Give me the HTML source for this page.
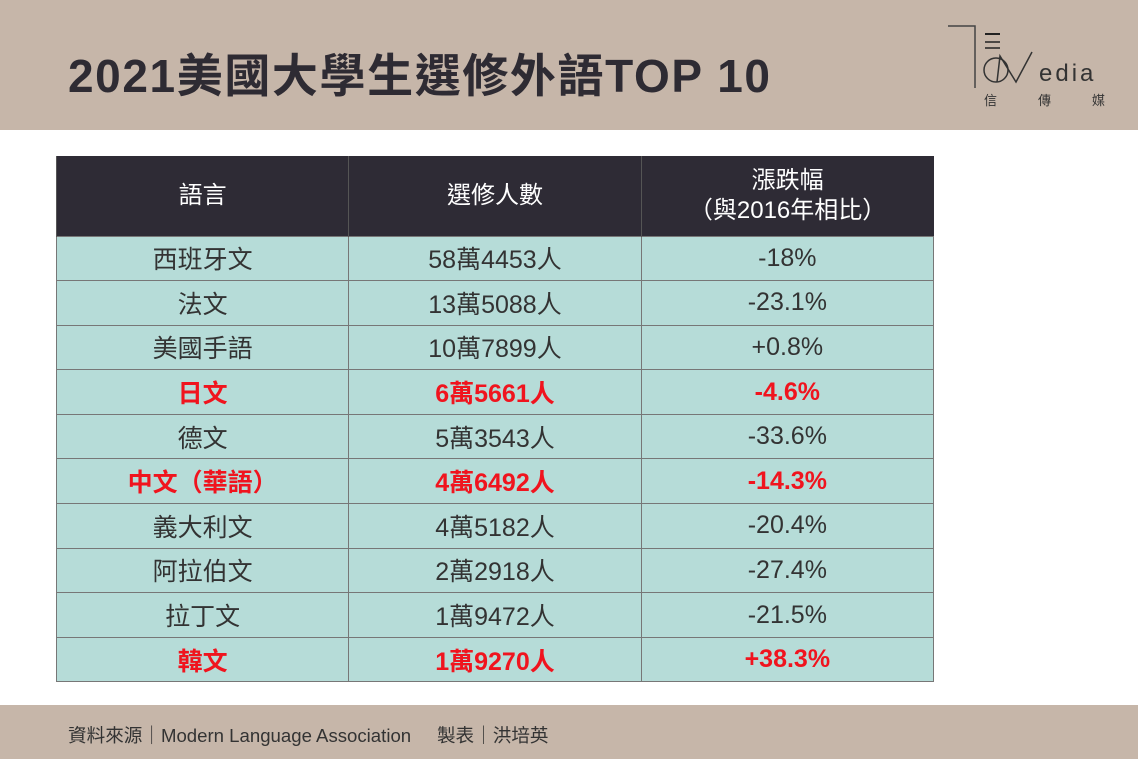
<!DOCTYPE html>
<html><head><meta charset="utf-8"><style>
*{margin:0;padding:0;box-sizing:border-box}
body{width:1138px;height:759px;background:#fff;position:relative;overflow:hidden;font-family:"Liberation Sans","Noto Sans CJK TC",sans-serif}
.top{position:absolute;left:0;top:0;width:1138px;height:130px;background:#c6b6a9}
.title{position:absolute;left:68px;top:40px;font-size:46px;font-weight:bold;color:#2e2b33;letter-spacing:1.6px;white-space:nowrap}
.foot{position:absolute;left:0;top:705px;width:1138px;height:54px;background:#c6b6a9;font-size:18.6px;color:#333;padding:16px 0 0 68px;white-space:nowrap}
table{position:absolute;left:56px;top:156px;width:878px;border-collapse:collapse;font-family:"Liberation Sans","Noto Sans CJK TC",sans-serif}
th{background:#2e2b35;color:#fff;font-weight:normal;font-size:24px;height:80px;border-left:1px solid #555;line-height:1.25}
td{background:#b6dcd8;border:1px solid #777;height:44.6px;text-align:center;font-size:25px;color:#333;width:292px}
tr.r td{color:#f0141e;font-weight:bold}
</style></head><body>
<div class="top"></div>
<div class="title">2021美國大學生選修外語TOP 10</div>
<svg style="position:absolute;left:940px;top:18px" width="190" height="100">
<polyline points="8,8 35,8 35,70" fill="none" stroke="#444" stroke-width="1.5"/>
<line x1="45" y1="16" x2="60" y2="16" stroke="#222" stroke-width="2"/>
<line x1="45" y1="24" x2="60" y2="24" stroke="#222" stroke-width="1.5"/>
<line x1="45" y1="30" x2="60" y2="30" stroke="#222" stroke-width="1.5"/>
<circle cx="56" cy="52" r="12" fill="none" stroke="#333" stroke-width="1.5"/>
<polyline points="57,64 60,38 76,64 92,34" fill="none" stroke="#333" stroke-width="1.5"/>
<text x="99" y="63" font-size="24" fill="#333" font-family="Liberation Sans" letter-spacing="3">edia</text>
<text x="44" y="87" font-size="13" fill="#333">信</text>
<text x="98" y="87" font-size="13" fill="#333">傳</text>
<text x="152" y="87" font-size="13" fill="#333">媒</text>
</svg>
<table>
<tr><th>語言</th><th>選修人數</th><th>漲跌幅<br>（與2016年相比）</th></tr>
<tr><td>西班牙文</td><td>58萬4453人</td><td>-18%</td></tr>
<tr><td>法文</td><td>13萬5088人</td><td>-23.1%</td></tr>
<tr><td>美國手語</td><td>10萬7899人</td><td>+0.8%</td></tr>
<tr class="r"><td>日文</td><td>6萬5661人</td><td>-4.6%</td></tr>
<tr><td>德文</td><td>5萬3543人</td><td>-33.6%</td></tr>
<tr class="r"><td>中文（華語）</td><td>4萬6492人</td><td>-14.3%</td></tr>
<tr><td>義大利文</td><td>4萬5182人</td><td>-20.4%</td></tr>
<tr><td>阿拉伯文</td><td>2萬2918人</td><td>-27.4%</td></tr>
<tr><td>拉丁文</td><td>1萬9472人</td><td>-21.5%</td></tr>
<tr class="r"><td>韓文</td><td>1萬9270人</td><td>+38.3%</td></tr>
</table>
<div class="foot">資料來源｜Modern Language Association&nbsp;&nbsp;&nbsp;&nbsp;&nbsp;製表｜洪培英</div>
</body></html>
